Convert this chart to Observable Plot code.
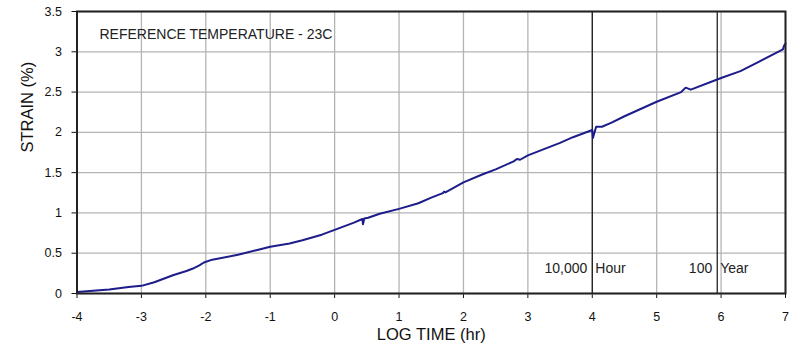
<!DOCTYPE html>
<html>
<head>
<meta charset="utf-8">
<script src="https://cdn.jsdelivr.net/npm/d3@7"></script>
<script src="https://cdn.jsdelivr.net/npm/@observablehq/plot@0.6"></script>
<style>
  html, body { margin: 0; padding: 0; background: #fff; }
</style>
</head>
<body>
<div id="chart"></div>
<script>
// ---- data ----
const logTime = [
  -4, -3.8, -3.5, -3.2, -3.0, -2.8, -2.5, -2.3, -2.2, -2.1, -2.03, -1.9, -1.5, -1.2, -1.0,
  -0.7, -0.5, -0.2, 0, 0.3, 0.43, 0.44, 0.46, 0.52, 0.7, 1.0, 1.3, 1.5, 1.68, 1.7, 1.72,
  2.0, 2.3, 2.5, 2.78, 2.83, 2.88, 3.0, 3.5, 3.7, 4.0, 4.01, 4.06, 4.15, 4.3, 4.5, 5.0,
  5.38, 5.45, 5.53, 6.0, 6.3, 6.5, 6.96, 6.98, 7.0
];
const strain = [
  0.02, 0.03, 0.05, 0.08, 0.095, 0.14, 0.23, 0.28, 0.31, 0.35, 0.385, 0.42, 0.48, 0.54, 0.58,
  0.62, 0.66, 0.73, 0.79, 0.88, 0.925, 0.86, 0.93, 0.94, 0.99, 1.05, 1.12, 1.19, 1.245, 1.265, 1.255,
  1.38, 1.48, 1.54, 1.64, 1.67, 1.66, 1.715, 1.87, 1.94, 2.03, 1.93, 2.07, 2.07, 2.12, 2.2, 2.38,
  2.5, 2.555, 2.53, 2.675, 2.76, 2.84, 3.03, 3.08, 3.1
];
const xTicks = [-4, -3, -2, -1, 0, 1, 2, 3, 4, 5, 6, 7];
const yTicks = [0, 0.5, 1, 1.5, 2, 2.5, 3, 3.5];
const markerTime = [4, 5.94];
const markerLeft = ["10,000", "100"];
const markerRight = ["Hour", "Year"];
const noteText = "REFERENCE TEMPERATURE - 23C";
const xLabel = "LOG TIME (hr)";
const yLabel = "STRAIN (%)";

const points = logTime.map((t, i) => ({t, s: strain[i]}));
const markers = markerTime.map((t, i) => ({t, left: markerLeft[i], right: markerRight[i]}));

const plot = Plot.plot({
  width: 798,
  height: 349,
  marginLeft: 76.5,
  marginRight: 13,
  marginTop: 11,
  marginBottom: 56,
  style: {
    fontFamily: "'Liberation Sans', Arial, sans-serif",
    fontSize: "12.5px",
    color: "#111",
    background: "#fff",
    overflow: "visible"
  },
  x: {
    domain: [-4, 7],
    ticks: xTicks,
    tickFormat: d => String(d),
    tickSize: 5,
    tickPadding: 14,
    label: null
  },
  y: {
    domain: [0, 3.5],
    ticks: yTicks,
    tickFormat: d => String(d),
    tickSize: 5,
    tickPadding: 10,
    label: null
  },
  marks: [
    Plot.ruleX(xTicks, {x: d => d, stroke: "#b4b4b4", strokeWidth: 1.3}),
    Plot.ruleY(yTicks, {y: d => d, stroke: "#b4b4b4", strokeWidth: 1.3}),
    Plot.ruleX(markers, {x: "t", stroke: "#111", strokeWidth: 1.2}),
    Plot.text(markers, {
      x: "t", text: "left", frameAnchor: "bottom", lineAnchor: "middle", dy: -24.5, dx: -5,
      textAnchor: "end", fontSize: 14, fill: "#222", ariaLabel: "marker-label"
    }),
    Plot.text(markers, {
      x: "t", text: "right", frameAnchor: "bottom", lineAnchor: "middle", dy: -24.5, dx: 3,
      textAnchor: "start", fontSize: 14, fill: "#222", ariaLabel: "marker-label"
    }),
    Plot.line(points, {x: "t", y: "s", stroke: "#1c1c8a", strokeWidth: 2}),
    Plot.frame({stroke: "#222", strokeWidth: 2}),
    Plot.text([noteText], {
      text: d => d, frameAnchor: "top-left", lineAnchor: "middle", dx: 22.5, dy: 23,
      textAnchor: "start", fontSize: 14, fill: "#222"
    }),
    Plot.text([xLabel], {
      text: d => d, frameAnchor: "bottom", lineAnchor: "middle", dy: 41, fontSize: 16.5, fill: "#111"
    }),
    Plot.text([yLabel], {
      text: d => d, frameAnchor: "left", lineAnchor: "middle", dx: -49.5, rotate: -90, fontSize: 16.5, fill: "#111"
    })
  ]
});

document.getElementById("chart").appendChild(plot);

// white boxes behind the marker labels (sized from the rendered text)
const svg = d3.select(plot);
svg.selectAll("g[aria-label='marker-label']").each(function () {
  const g = d3.select(this);
  const bg = d3.select(this.parentNode).insert("g", () => this);
  g.selectAll("text").each(function () {
    const b = this.getBBox();
    const tr = this.getAttribute("transform") || "";
    bg.append("rect")
      .attr("transform", tr)
      .attr("x", b.x - 2)
      .attr("y", b.y - 8)
      .attr("width", b.width + 4)
      .attr("height", b.height + 7)
      .attr("fill", "#fff");
  });
});
</script>
</body>
</html>
